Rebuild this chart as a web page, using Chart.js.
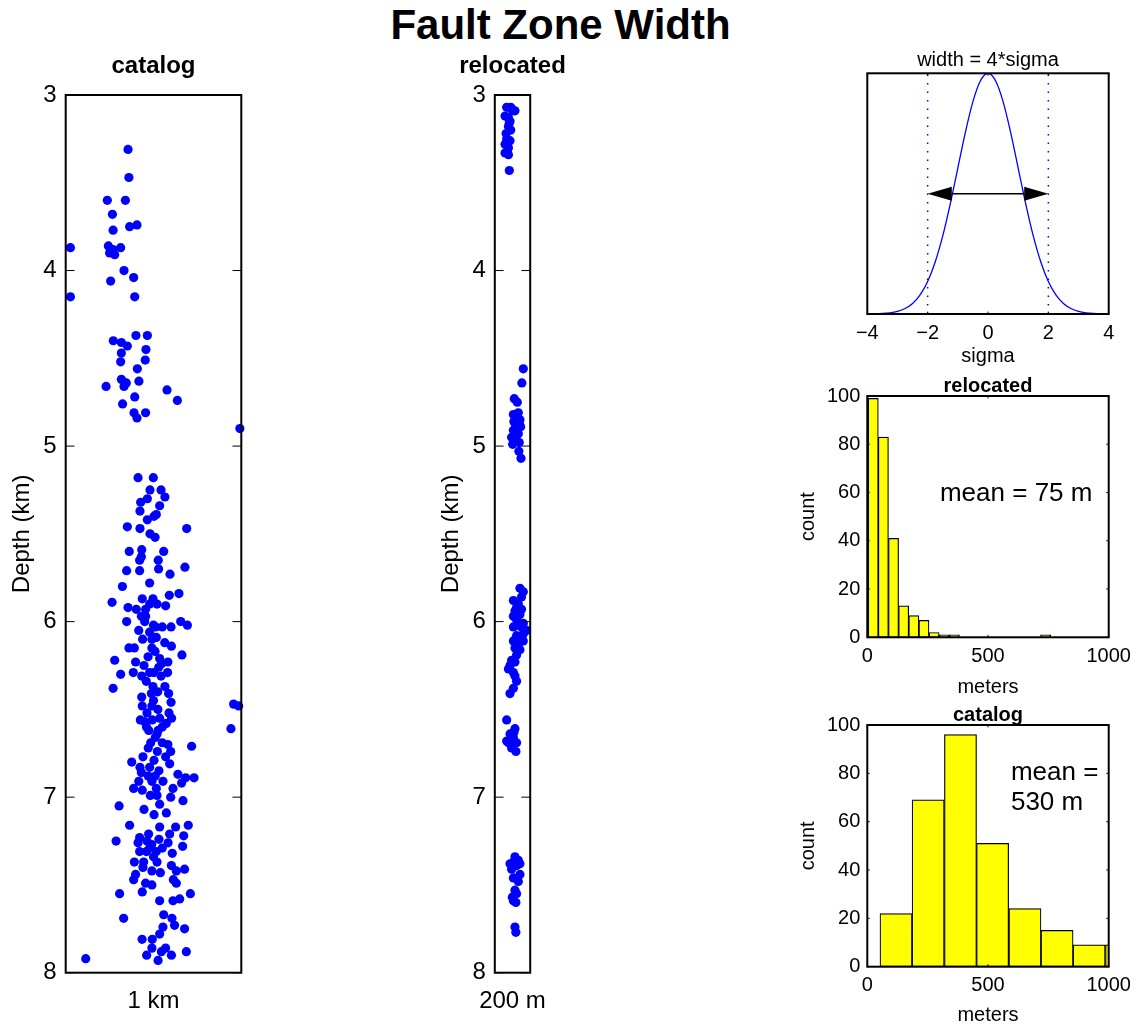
<!DOCTYPE html>
<html>
<head>
<meta charset="utf-8">
<title>Fault Zone Width</title>
<script src="https://cdn.jsdelivr.net/npm/chart.js@4.4.1/dist/chart.umd.min.js"></script>
<style>
  html, body { margin: 0; padding: 0; background: #fff; overflow: hidden; }
  body { width: 1144px; height: 1031px; position: relative; font-family: "Liberation Sans", Arial, Helvetica, sans-serif; }
  #main-title { position: absolute; left: 0; top: 4px; width: 1121px; text-align: center;
                font-size: 42px; line-height: 42px; font-weight: bold; color: #000; }
  canvas { position: absolute; }
</style>
</head>
<body>
<div id="main-title">Fault Zone Width</div>
<canvas id="catalog-scatter" width="307" height="991" style="left:0px;top:40px"></canvas>
<canvas id="reloc-scatter" width="225" height="991" style="left:400px;top:40px"></canvas>
<canvas id="sigma-plot" width="416" height="340" style="left:780px;top:40px"></canvas>
<canvas id="reloc-hist" width="416" height="330" style="left:780px;top:370px"></canvas>
<canvas id="catalog-hist" width="416" height="331" style="left:780px;top:700px"></canvas>
<script>
// ---- data ----
// catalog locations: horizontal position (km, across the 1 km panel) and depth (km)
const catalogX = [
  0.355, 0.36, 0.237, 0.34, 0.266, 0.364, 0.406, 0.27, 0.027, 0.243, 0.313, 0.25, 0.279, 0.27,
  0.332, 0.387, 0.256, 0.027, 0.393, 0.40, 0.465, 0.271, 0.317, 0.351, 0.457, 0.317, 0.453, 0.313,
  0.408, 0.317, 0.345, 0.332, 0.23, 0.417, 0.577, 0.393, 0.636, 0.324, 0.389, 0.406, 0.455, 0.992,
  0.412, 0.499, 0.48, 0.543, 0.565, 0.465, 0.427, 0.535, 0.423, 0.516, 0.503, 0.465, 0.351, 0.423,
  0.689, 0.48, 0.509, 0.362, 0.433, 0.558, 0.431, 0.421, 0.527, 0.347, 0.421, 0.529, 0.679, 0.594,
  0.478, 0.323, 0.59, 0.645, 0.264, 0.436, 0.497, 0.478, 0.52, 0.569, 0.355, 0.402, 0.455, 0.431,
  0.455, 0.347, 0.45, 0.655, 0.693, 0.416, 0.478, 0.512, 0.55, 0.60, 0.438, 0.491, 0.516, 0.564,
  0.602, 0.36, 0.391, 0.491, 0.509, 0.662, 0.279, 0.469, 0.535, 0.398, 0.446, 0.546, 0.582, 0.313,
  0.385, 0.433, 0.478, 0.502, 0.543, 0.58, 0.27, 0.459, 0.497, 0.565, 0.586, 0.433, 0.488, 0.524,
  0.60, 0.436, 0.491, 0.525, 0.463, 0.588, 0.425, 0.493, 0.535, 0.603, 0.573, 0.45, 0.473, 0.526,
  0.52, 0.956, 0.985, 0.941, 0.484, 0.55, 0.582, 0.717, 0.47, 0.522, 0.598, 0.44, 0.569, 0.376,
  0.503, 0.592, 0.423, 0.478, 0.531, 0.431, 0.639, 0.683, 0.731, 0.416, 0.491, 0.554, 0.66, 0.387,
  0.436, 0.516, 0.611, 0.482, 0.52, 0.598, 0.668, 0.304, 0.446, 0.503, 0.573, 0.535, 0.364, 0.535,
  0.626, 0.698, 0.472, 0.421, 0.592, 0.672, 0.287, 0.412, 0.463, 0.531, 0.583, 0.666, 0.478, 0.421,
  0.516, 0.607, 0.52, 0.391, 0.444, 0.44, 0.602, 0.491, 0.539, 0.63, 0.677, 0.398, 0.387, 0.613,
  0.455, 0.491, 0.63, 0.436, 0.307, 0.71, 0.535, 0.611, 0.649, 0.33, 0.558, 0.605, 0.554, 0.62,
  0.677, 0.535, 0.435, 0.493, 0.491, 0.569, 0.687, 0.545, 0.602, 0.114, 0.461, 0.526,
  0.50, 0.46, 0.51, 0.55, 0.47, 0.51, 0.49, 0.50, 0.46, 0.55, 0.50, 0.53
];
const catalogDepth = [
  3.31, 3.47, 3.60, 3.60, 3.68, 3.75, 3.74, 3.77, 3.87, 3.86, 3.87, 3.90, 3.91, 3.88,
  4.00, 4.04, 4.06, 4.15, 4.15, 4.37, 4.37, 4.40, 4.41, 4.43, 4.45, 4.47, 4.51, 4.52,
  4.56, 4.62, 4.64, 4.66, 4.66, 4.63, 4.68, 4.72, 4.74, 4.76, 4.81, 4.84, 4.81, 4.90,
  5.18, 5.18, 5.25, 5.25, 5.29, 5.30, 5.32, 5.34, 5.37, 5.39, 5.40, 5.42, 5.46, 5.47,
  5.47, 5.50, 5.52, 5.60, 5.59, 5.60, 5.63, 5.65, 5.65, 5.71, 5.71, 5.70, 5.69, 5.73,
  5.78, 5.80, 5.85, 5.84, 5.89, 5.87, 5.87, 5.90, 5.90, 5.91, 5.92, 5.93, 5.93, 5.97,
  5.97, 6.00, 6.00, 6.00, 6.02, 6.05, 6.06, 6.03, 6.03, 6.03, 6.10, 6.10, 6.09, 6.12,
  6.14, 6.15, 6.15, 6.15, 6.17, 6.19, 6.22, 6.20, 6.21, 6.23, 6.25, 6.24, 6.23, 6.30,
  6.29, 6.31, 6.29, 6.29, 6.31, 6.29, 6.38, 6.34, 6.37, 6.37, 6.41, 6.43, 6.41, 6.40,
  6.46, 6.48, 6.48, 6.50, 6.52, 6.52, 6.56, 6.56, 6.55, 6.55, 6.58, 6.57, 6.62, 6.62,
  6.64, 6.47, 6.48, 6.61, 6.69, 6.69, 6.70, 6.71, 6.72, 6.74, 6.74, 6.77, 6.77, 6.80,
  6.79, 6.81, 6.83, 6.83, 6.85, 6.86, 6.87, 6.89, 6.89, 6.91, 6.91, 6.91, 6.92, 6.95,
  6.96, 6.95, 6.95, 6.99, 6.99, 7.00, 7.02, 7.05, 7.07, 7.10, 7.09, 7.04, 7.16, 7.17,
  7.17, 7.16, 7.21, 7.23, 7.21, 7.22, 7.25, 7.26, 7.25, 7.24, 7.26, 7.28, 7.29, 7.31,
  7.31, 7.32, 7.37, 7.37, 7.37, 7.40, 7.39, 7.42, 7.43, 7.42, 7.41, 7.44, 7.47, 7.47,
  7.49, 7.50, 7.49, 7.54, 7.55, 7.55, 7.59, 7.59, 7.58, 7.69, 7.67, 7.69, 7.74, 7.73,
  7.75, 7.78, 7.81, 7.81, 7.86, 7.86, 7.88, 7.88, 7.90, 7.92, 7.90, 7.93,
  6.45, 6.60, 6.66, 6.60, 6.88, 6.88, 7.27, 7.34, 7.31, 7.29, 6.02, 6.26
];

// relocated locations: horizontal position (m, across the 200 m panel) and depth (km)
const relocX = [
  67, 90, 114, 101, 58, 77, 86, 77, 90, 67, 58, 77, 58, 77, 82, 64, 86, 71, 97, 82,
  161, 153, 110, 127, 133, 105, 142, 114, 146, 105, 133, 95, 123, 138, 136, 148, 120, 108, 138, 114, 101,
  142, 161, 105, 133, 114, 142, 123, 161, 179, 105, 123, 142, 114, 142, 95, 114, 77, 105, 123, 105, 86,
  151, 123, 151, 105, 151, 133, 161, 105, 133, 161, 123, 86, 114,
  67, 114, 86, 77, 123, 95, 119, 105, 67, 108,
  114, 105, 133, 86, 123, 142, 105, 133, 114, 105, 119, 114, 119, 95, 142, 123, 99
];
const relocDepth = [
  3.07, 3.07, 3.09, 3.09, 3.12, 3.13, 3.15, 3.18, 3.20, 3.25, 3.28, 3.30, 3.33, 3.34, 3.43, 3.22, 3.26, 3.32, 3.08, 3.16,
  4.56, 4.64, 4.73, 4.75, 4.81, 4.82, 4.85, 4.87, 4.89, 4.91, 4.93, 4.95, 4.97, 4.98, 5.03, 5.07, 4.83, 4.86, 4.87, 4.95, 4.99,
  5.81, 5.83, 5.88, 5.90, 5.94, 5.96, 5.99, 6.01, 6.05, 6.03, 6.08, 6.11, 6.15, 6.16, 6.22, 6.23, 6.27, 6.29, 6.34, 6.38, 6.41,
  5.86, 5.92, 5.93, 5.97, 6.03, 6.02, 6.07, 6.11, 6.13, 6.11, 6.19, 6.25, 6.31,
  6.56, 6.61, 6.64, 6.69, 6.69, 6.72, 6.74, 6.66, 6.68, 6.63,
  7.34, 7.37, 7.36, 7.38, 7.39, 7.38, 7.46, 7.48, 7.53, 7.59, 7.60, 7.74, 7.77, 7.41, 7.44, 7.55, 7.57
];

// gaussian sketch (x in sigma)
const gaussX = [-4, -3.75, -3.5, -3.25, -3, -2.75, -2.5, -2.25, -2, -1.75, -1.5, -1.25, -1, -0.75, -0.5, -0.25, 0,
                0.25, 0.5, 0.75, 1, 1.25, 1.5, 1.75, 2, 2.25, 2.5, 2.75, 3, 3.25, 3.5, 3.75, 4];
const gaussY = [0.0003, 0.0009, 0.0022, 0.0051, 0.0111, 0.0228, 0.0439, 0.0796, 0.1353, 0.2163, 0.3247, 0.4578, 0.6065,
                0.7548, 0.8825, 0.9692, 1, 0.9692, 0.8825, 0.7548, 0.6065, 0.4578, 0.3247, 0.2163, 0.1353, 0.0796,
                0.0439, 0.0228, 0.0111, 0.0051, 0.0022, 0.0009, 0.0003];
const widthMarks = [-2, 2];   // dotted lines / arrow ends
const arrowLevel = 0.5;

// histograms: bin centres (m) and counts
const relocBins = [24.6, 66.6, 108.6, 150.6, 192.6, 234.6, 276.6, 318.6, 360.6, 402.6, 444.6, 486.6,
                   528.6, 570.6, 612.6, 654.6, 696.6, 738.6];
const relocCounts = [99, 83, 41, 13, 9, 7, 2, 1, 1, 0, 0, 0, 0, 0, 0, 0, 0, 1];
const catalogBins = [119, 252, 386, 519, 653, 786, 919, 1053];
const catalogCounts = [22, 69, 96, 51, 24, 15, 9, 9];

const FONT = '"Liberation Sans", Arial, Helvetica, sans-serif';
Chart.defaults.font.family = FONT;
Chart.defaults.color = '#000';

function pairs(xs, ys) {
  return xs.map(function(x, i) { return {x: x, y: ys[i]}; });
}

// frame with inward ticks, like the original axes box
function boxPlugin(tickLen, xTicks, yTicks) {
  return {
    id: 'box',
    afterDatasetsDraw(chart) {
      const ctx = chart.ctx, a = chart.chartArea;
      ctx.save();
      ctx.strokeStyle = '#000';
      ctx.lineWidth = 1;
      ctx.beginPath();
      if (yTicks) {
        chart.scales.y.ticks.forEach(function(t) {
          const p = chart.scales.y.getPixelForValue(t.value);
          ctx.moveTo(a.left, p); ctx.lineTo(a.left + tickLen, p);
          ctx.moveTo(a.right, p); ctx.lineTo(a.right - tickLen, p);
        });
      }
      if (xTicks) {
        chart.scales.x.ticks.forEach(function(t) {
          const p = chart.scales.x.getPixelForValue(t.value);
          ctx.moveTo(p, a.bottom); ctx.lineTo(p, a.bottom - tickLen);
          ctx.moveTo(p, a.top); ctx.lineTo(p, a.top + tickLen);
        });
      }
      ctx.stroke();
      ctx.lineWidth = 2;
      ctx.strokeRect(a.left, a.top, a.right - a.left, a.bottom - a.top);
      ctx.restore();
    }
  };
}

// text placed in data coordinates
function notesPlugin(notes) {
  return {
    id: 'notes',
    afterDraw(chart) {
      const ctx = chart.ctx;
      ctx.save();
      ctx.fillStyle = '#000';
      ctx.font = '26px ' + FONT;
      ctx.textAlign = 'left';
      ctx.textBaseline = 'middle';
      notes.forEach(function(n) {
        ctx.fillText(n.text, chart.scales.x.getPixelForValue(n.x), chart.scales.y.getPixelForValue(n.y));
      });
      ctx.restore();
    }
  };
}

// x label under a narrow panel (the scale title would be squeezed to the axis width)
function bottomLabelPlugin(text) {
  return {
    id: 'bottomLabel',
    afterDraw(chart) {
      const ctx = chart.ctx, a = chart.chartArea;
      ctx.save();
      ctx.fillStyle = '#000';
      ctx.font = '24px ' + FONT;
      ctx.textAlign = 'center';
      ctx.textBaseline = 'middle';
      ctx.fillText(text, (a.left + a.right) / 2, a.bottom + 29);
      ctx.restore();
    }
  };
}

const arrowPlugin = {
  id: 'widthArrow',
  afterDatasetsDraw(chart) {
    const ctx = chart.ctx, sx = chart.scales.x, sy = chart.scales.y;
    const x0 = sx.getPixelForValue(widthMarks[0]), x1 = sx.getPixelForValue(widthMarks[1]);
    const y = sy.getPixelForValue(arrowLevel);
    const head = sx.getPixelForValue(-1.2) - x0;
    ctx.save();
    ctx.strokeStyle = '#000';
    ctx.fillStyle = '#000';
    ctx.lineWidth = 1.5;
    ctx.beginPath();
    ctx.moveTo(x0 + head, y); ctx.lineTo(x1 - head, y);
    ctx.stroke();
    ctx.beginPath();
    ctx.moveTo(x0, y); ctx.lineTo(x0 + head, y - 7); ctx.lineTo(x0 + head, y + 7); ctx.closePath();
    ctx.moveTo(x1, y); ctx.lineTo(x1 - head, y - 7); ctx.lineTo(x1 - head, y + 7); ctx.closePath();
    ctx.fill();
    ctx.restore();
  }
};

const noGrid = {display: false, drawTicks: false};
const noBorder = {display: false};

// empty right-hand axis so a panel title centres over the plot box
function spacerAxis(w) {
  return {
    type: 'linear', position: 'right', display: true,
    grid: noGrid, border: noBorder,
    ticks: {display: false},
    afterFit: function(s) { s.width = w; }
  };
}

function scatterPanel(id, xs, ys, xMax, xLabel, titleText, yTitlePad, sideWidth) {
  return new Chart(document.getElementById(id), {
    type: 'scatter',
    data: {
      datasets: [{
        data: pairs(xs, ys),
        pointRadius: 4.6,
        pointHoverRadius: 4.6,
        pointBackgroundColor: '#0000ff',
        pointBorderWidth: 0,
        clip: false
      }]
    },
    options: {
      responsive: false,
      animation: false,
      devicePixelRatio: 1,
      layout: {padding: 0},
      plugins: {
        legend: {display: false},
        tooltip: {enabled: false},
        title: {display: true, text: titleText, font: {size: 24, weight: 'bold', lineHeight: 1.2},
                padding: {top: 11.6, bottom: 14.6}}
      },
      scales: {
        x: {
          type: 'linear', min: 0, max: xMax,
          grid: noGrid, border: noBorder,
          ticks: {display: false},
          afterFit: function(s) { s.height = 58.3; }
        },
        y: {
          type: 'linear', min: 3, max: 8, reverse: true,
          grid: noGrid, border: noBorder,
          ticks: {stepSize: 1, padding: 9, font: {size: 24}},
          title: {display: true, text: 'Depth (km)', font: {size: 24, lineHeight: 1.2}, padding: {top: yTitlePad, bottom: 0}},
          afterFit: function(s) { s.width = sideWidth; }
        },
        ySpacer: spacerAxis(sideWidth)
      }
    },
    plugins: [boxPlugin(8.8, false, true), bottomLabelPlugin(xLabel)]
  });
}

scatterPanel('catalog-scatter', catalogX, catalogDepth, 1, '1 km', 'catalog', 7.6, 65.7);
scatterPanel('reloc-scatter', relocX, relocDepth, 200, '200 m', 'relocated', 36.6, 94.8);

// gaussian panel
new Chart(document.getElementById('sigma-plot'), {
  type: 'line',
  data: {
    datasets: [
      {data: pairs(gaussX, gaussY), borderColor: '#0000ff', borderWidth: 1.3, pointRadius: 0,
       cubicInterpolationMode: 'monotone'},
      {data: [{x: widthMarks[0], y: 0}, {x: widthMarks[0], y: 1}], borderColor: '#0000ff', borderWidth: 1.5,
       borderDash: [1.5, 7], pointRadius: 0},
      {data: [{x: widthMarks[1], y: 0}, {x: widthMarks[1], y: 1}], borderColor: '#0000ff', borderWidth: 1.5,
       borderDash: [1.5, 7], pointRadius: 0}
    ]
  },
  options: {
    responsive: false,
    animation: false,
    devicePixelRatio: 1,
    layout: {padding: 0},
    plugins: {
      legend: {display: false},
      tooltip: {enabled: false},
      title: {display: true, text: 'width = 4*sigma', font: {size: 20, weight: 'normal', lineHeight: 1},
              padding: {top: 10, bottom: 3.3}}
    },
    scales: {
      x: {
        type: 'linear', min: -4, max: 4,
        grid: noGrid, border: noBorder,
        ticks: {stepSize: 2, padding: 7, font: {size: 20},
                callback: function(v) { return v < 0 ? '\u2212' + Math.abs(v) : String(v); }},
        title: {display: true, text: 'sigma', font: {size: 20, lineHeight: 1.2}, padding: {top: 0, bottom: 11.6}},
        afterFit: function(s) { s.height = 66; }
      },
      y: {
        type: 'linear', min: 0, max: 1,
        grid: noGrid, border: noBorder,
        ticks: {display: false},
        afterFit: function(s) { s.width = 87.3; }
      },
      ySpacer: spacerAxis(87.3)
    }
  },
  plugins: [boxPlugin(2.4, true, false), arrowPlugin]
});

function histPanel(id, bins, counts, titleText, titleTop, xHeight, labelPad, notes) {
  return new Chart(document.getElementById(id), {
    type: 'bar',
    data: {
      datasets: [{
        data: pairs(bins, counts),
        backgroundColor: '#ffff00',
        borderColor: '#000',
        borderWidth: 1.2,
        borderSkipped: false,
        barPercentage: 1,
        categoryPercentage: 1,
        clip: 0
      }]
    },
    options: {
      responsive: false,
      animation: false,
      devicePixelRatio: 1,
      layout: {padding: 0},
      plugins: {
        legend: {display: false},
        tooltip: {enabled: false},
        title: {display: true, text: titleText, font: {size: 20, weight: 'bold', lineHeight: 1},
                padding: {top: titleTop, bottom: 0}}
      },
      scales: {
        x: {
          type: 'linear', min: 0, max: 1000, offset: false,
          grid: {display: false, drawTicks: false, offset: false}, border: noBorder,
          ticks: {stepSize: 500, padding: 7, font: {size: 20}, callback: function(v) { return String(v); }},
          title: {display: true, text: 'meters', font: {size: 20, lineHeight: 1.2}, padding: {top: 0, bottom: labelPad}},
          afterFit: function(s) { s.height = xHeight; }
        },
        y: {
          type: 'linear', min: 0, max: 100,
          grid: noGrid, border: noBorder,
          ticks: {stepSize: 20, padding: 7, font: {size: 20}},
          title: {display: true, text: 'count', font: {size: 20, lineHeight: 1.2}, padding: {top: 16, bottom: 0}},
          afterFit: function(s) { s.width = 87.3; }
        },
        ySpacer: spacerAxis(87.3)
      }
    },
    plugins: [boxPlugin(2.4, true, true), notesPlugin(notes)]
  });
}

histPanel('reloc-hist', relocBins, relocCounts, 'relocated', 6, 62.7, 1,
          [{x: 301, y: 59.3, text: 'mean = 75 m'}]);
histPanel('catalog-hist', catalogBins, catalogCounts, 'catalog', 5, 64.3, 4,
          [{x: 595, y: 80.3, text: 'mean ='}, {x: 595, y: 67.9, text: '530 m'}]);
</script>
</body>
</html>
